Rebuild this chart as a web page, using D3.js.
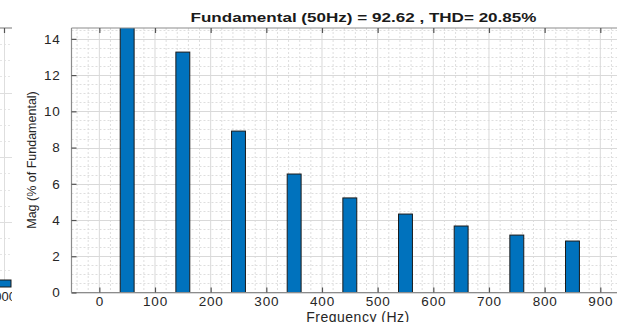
<!DOCTYPE html>
<html>
<head>
<meta charset="utf-8">
<script src="https://cdn.jsdelivr.net/npm/d3@7/dist/d3.min.js"></script>
<style>
  html, body { margin: 0; padding: 0; background: #fff; }
  svg { display: block; font-family: "Liberation Sans", Arial, Helvetica, sans-serif; }
</style>
</head>
<body>
<svg id="chart" width="622" height="322"></svg>
<script>
// Harmonic spectrum of the current, magnitudes in % of the fundamental
const harmonicHz = [50, 150, 250, 350, 450, 550, 650, 750, 850];
const magPercent = [100, 13.27, 8.91, 6.54, 5.22, 4.33, 3.67, 3.17, 2.84];
const xTicks = [0, 100, 200, 300, 400, 500, 600, 700, 800, 900];
const yTicks = [0, 2, 4, 6, 8, 10, 12, 14];
const titleText = "Fundamental (50Hz) = 92.62 , THD= 20.85%";
const xLabel = "Frequency (Hz)";
const yLabel = "Mag (% of Fundamental)";
// neighbouring panel (only its right edge is in view)
const sidePanelTick = "1000";

const W = 622, H = 322;
const m = { left: 71.5, top: 28, right: 617, bottom: 292.5 };

const svg = d3.select("#chart");

const x = d3.scaleLinear().domain([-50, 930]).range([m.left, m.right]);
const y = d3.scaleLinear().domain([0, 14.6]).range([m.bottom, m.top]);

const textColor = "#262626";
const axisColor = "#8c8c8c";

// ---- grid ----
const grid = svg.append("g");
const xMinor = d3.range(-40, 931, 20).filter(v => v % 100 !== 0);
const yMinor = d3.range(0.5, 14.6, 0.5).filter(v => v % 2 !== 0);

grid.selectAll(".xm").data(xMinor).join("line")
  .attr("x1", d => x(d)).attr("x2", d => x(d))
  .attr("y1", m.top).attr("y2", m.bottom)
  .attr("stroke", "#dedede").attr("stroke-width", 1).attr("stroke-dasharray", "2,2");
grid.selectAll(".ym").data(yMinor).join("line")
  .attr("x1", m.left).attr("x2", m.right)
  .attr("y1", d => Math.round(y(d)) + 0.5).attr("y2", d => Math.round(y(d)) + 0.5)
  .attr("stroke", "#dedede").attr("stroke-width", 1).attr("stroke-dasharray", "2,2");
grid.selectAll(".xM").data(xTicks).join("line")
  .attr("x1", d => x(d)).attr("x2", d => x(d))
  .attr("y1", m.top).attr("y2", m.bottom)
  .attr("stroke", "#d9d9d9").attr("stroke-width", 1);
grid.selectAll(".yM").data(yTicks).join("line")
  .attr("x1", m.left).attr("x2", m.right)
  .attr("y1", d => Math.round(y(d)) + 0.5).attr("y2", d => Math.round(y(d)) + 0.5)
  .attr("stroke", "#d9d9d9").attr("stroke-width", 1);

// ---- bars ----
svg.append("clipPath").attr("id", "plotClip")
  .append("rect").attr("x", m.left).attr("y", m.top)
  .attr("width", m.right - m.left).attr("height", m.bottom - m.top);

const barHalf = 12.5; // Hz
svg.append("g").attr("clip-path", "url(#plotClip)")
  .selectAll("rect").data(harmonicHz).join("rect")
  .attr("x", d => x(d - barHalf))
  .attr("width", d => x(d + barHalf) - x(d - barHalf))
  .attr("y", (d, i) => y(magPercent[i]))
  .attr("height", (d, i) => m.bottom - y(magPercent[i]))
  .attr("fill", "#0072BD")
  .attr("stroke", "#1a1a1a").attr("stroke-width", 1);

// ---- axes ----
const xAxisB = d3.axisBottom(x).tickValues(xTicks).tickSize(-5).tickPadding(4).tickFormat(d3.format("d"));
const xAxisT = d3.axisTop(x).tickValues(xTicks).tickSize(-5).tickFormat("");
const yAxisL = d3.axisLeft(y).tickValues(yTicks).tickSize(-5).tickPadding(11).tickFormat(d3.format("d"));

function styleAxis(g) {
  g.select(".domain").attr("stroke", axisColor).attr("stroke-width", 1.2);
  g.selectAll(".tick line").attr("stroke", "#555").attr("stroke-width", 1.2);
  g.selectAll(".tick text").attr("fill", textColor).attr("font-size", 13.5)
    .attr("letter-spacing", "0.8px")
    .attr("font-family", "'Liberation Sans', Arial, sans-serif");
}

svg.append("g").attr("transform", `translate(0,${m.bottom})`).call(xAxisB).call(styleAxis)
  .select(".domain").attr("d", `M${m.left},0H${m.right}`);
svg.append("g").attr("transform", `translate(0,${m.top})`).call(xAxisT).call(styleAxis)
  .select(".domain").attr("d", `M${m.left},0H${m.right}`);
svg.append("g").attr("transform", `translate(${m.left},0)`).call(yAxisL).call(styleAxis)
  .select(".domain").attr("d", `M0,${m.top}V${m.bottom}`);

// ---- labels ----
svg.append("text")
  .attr("x", 363.5).attr("y", 22)
  .attr("text-anchor", "middle")
  .attr("font-weight", "bold").attr("font-size", 13)
  .attr("textLength", 346).attr("lengthAdjust", "spacingAndGlyphs")
  .attr("fill", "#1a1a1a")
  .text(titleText);

svg.append("text")
  .attr("x", 358).attr("y", 322)
  .attr("text-anchor", "middle").attr("font-size", 14)
  .attr("letter-spacing", "0.5px")
  .attr("fill", textColor)
  .text(xLabel);

svg.append("text")
  .attr("transform", `translate(36,160) rotate(-90)`)
  .attr("text-anchor", "middle").attr("font-size", 12.5)
  .attr("fill", textColor)
  .text(yLabel);

// ---- neighbouring panel on the left ----
svg.append("clipPath").attr("id", "sideClip")
  .append("rect").attr("x", 0).attr("y", 0).attr("width", 12).attr("height", H);
const side = svg.append("g").attr("clip-path", "url(#sideClip)");
const sideY = d3.scaleLinear().domain([0, 8]).range([m.bottom - 6, m.top]);
side.selectAll(".sg").data(d3.range(0.5, 8, 0.5)).join("line")
  .attr("x1", 0).attr("x2", 12)
  .attr("y1", d => Math.round(sideY(d)) + 0.5).attr("y2", d => Math.round(sideY(d)) + 0.5)
  .attr("stroke", d => d % 2 === 0 ? "#dedede" : "#e6e6e6")
  .attr("stroke-dasharray", d => d % 2 === 0 ? null : "2,2");
side.append("line").attr("x1", 4.5).attr("x2", 4.5).attr("y1", m.top).attr("y2", 287)
  .attr("stroke", "#dedede");
side.append("line").attr("x1", 0).attr("x2", 12).attr("y1", m.top).attr("y2", m.top)
  .attr("stroke", axisColor).attr("stroke-width", 1.2);
side.append("line").attr("x1", 4.5).attr("x2", 4.5).attr("y1", m.top).attr("y2", m.top + 5)
  .attr("stroke", "#555").attr("stroke-width", 1.2);
side.append("rect").attr("x", -6).attr("y", 280).attr("width", 17).attr("height", 7)
  .attr("fill", "#0072BD").attr("stroke", "#1a1a1a");
side.append("text").attr("x", 16).attr("y", 301).attr("text-anchor", "end")
  .attr("font-size", 13).attr("fill", textColor).text(sidePanelTick);
</script>
</body>
</html>
